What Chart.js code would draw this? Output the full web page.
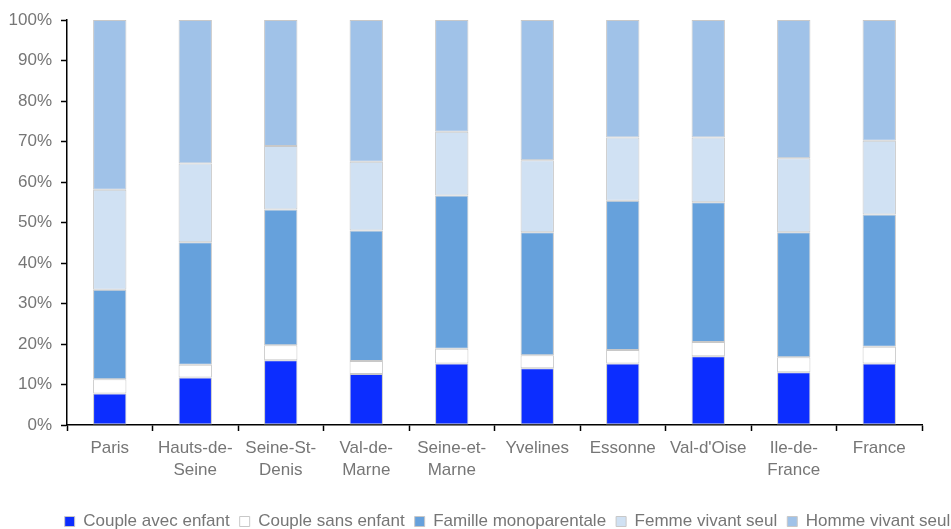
<!DOCTYPE html>
<html>
<head>
<meta charset="utf-8">
<script src="https://cdn.jsdelivr.net/npm/chart.js@4"></script>
<style>
  html, body { margin: 0; padding: 0; background: #fff; overflow: hidden; }
  #view { width: 951px; height: 529px; overflow: hidden; }
  #wrap { width: 1015px; height: 540px; }
</style>
</head>
<body>
<div id="view"><div id="wrap"><canvas id="chart"></canvas></div></div>
<script>
const categories = ['Paris', ['Hauts-de-', 'Seine'], ['Seine-St-', 'Denis'], ['Val-de-', 'Marne'],
  ['Seine-et-', 'Marne'], 'Yvelines', 'Essonne', "Val-d'Oise", ['Ile-de-', 'France'], 'France'];

const coupleAvecEnfant = [7.8, 11.7, 16.0, 12.6, 15.2, 14.0, 15.2, 17.0, 13.0, 15.2];
const coupleSansEnfant = [3.5, 3.2, 3.7, 3.2, 3.6, 3.2, 3.3, 3.5, 3.7, 4.1];
const familleMono = [22.1, 30.2, 33.5, 32.2, 37.9, 30.4, 36.9, 34.5, 30.9, 32.7];
const femmeSeule = [24.7, 19.5, 15.7, 17.0, 15.7, 17.8, 15.6, 16.0, 18.3, 18.2];
const hommeSeul = [41.9, 35.4, 31.1, 35.0, 27.6, 34.6, 29.0, 29.0, 34.1, 29.8];

const yTicks = [0, 10, 20, 30, 40, 50, 60, 70, 80, 90, 100];

const textColor = '#767676';
const font = { family: '"Liberation Sans", Arial, sans-serif', size: 17, lineHeight: 1.3 };

function ds(label, data, color) {
  return {
    label, data,
    backgroundColor: color,
    borderColor: '#c8c8c8',
    borderWidth: 1,
    borderSkipped: false,
    barPercentage: 0.78,
    categoryPercentage: 0.5
  };
}

new Chart(document.getElementById('chart'), {
  type: 'bar',
  data: {
    labels: categories,
    datasets: [
      ds('Couple avec enfant', coupleAvecEnfant, '#0c2dff'),
      ds('Couple sans enfant', coupleSansEnfant, '#ffffff'),
      ds('Famille monoparentale', familleMono, '#66a1dc'),
      ds('Femme vivant seul', femmeSeule, '#d0e1f3'),
      ds('Homme vivant seul', hommeSeul, '#a0c2e8')
    ]
  },
  options: {
    responsive: true,
    maintainAspectRatio: false,
    animation: false,
    layout: { padding: { left: 0, right: 0, top: 19, bottom: 0 } },
    plugins: {
      tooltip: { enabled: false },
      legend: {
        position: 'bottom',
        labels: {
          color: textColor,
          font: { family: font.family, size: 17 },
          boxWidth: 10,
          boxHeight: 10,
          padding: 10
        }
      }
    },
    scales: {
      x: {
        stacked: true,
        grid: { drawOnChartArea: false, color: '#000', tickLength: 6, tickWidth: 1.5 },
        border: { color: '#000', width: 1.5 },
        ticks: { color: textColor, font: font, maxRotation: 0, autoSkip: false, padding: 6 },
        afterFit: s => { s.height = 78; }
      },
      y: {
        stacked: true,
        min: 0,
        max: 100,
        afterBuildTicks: axis => { axis.ticks = yTicks.map(v => ({ value: v })); },
        grid: { drawOnChartArea: false, color: '#000', tickLength: 6, tickWidth: 1.5 },
        border: { color: '#000', width: 1.5 },
        ticks: { color: textColor, font: font, padding: 9, callback: v => v + '%' },
        afterFit: s => { s.width = 67; }
      },
      // empty axis on the right: keeps the plot narrower while the legend uses full width
      side: {
        type: 'linear',
        position: 'right',
        display: true,
        grid: { display: false },
        border: { display: false },
        ticks: { display: false },
        afterFit: s => { s.width = 93; }
      }
    }
  }
});
</script>
</body>
</html>
